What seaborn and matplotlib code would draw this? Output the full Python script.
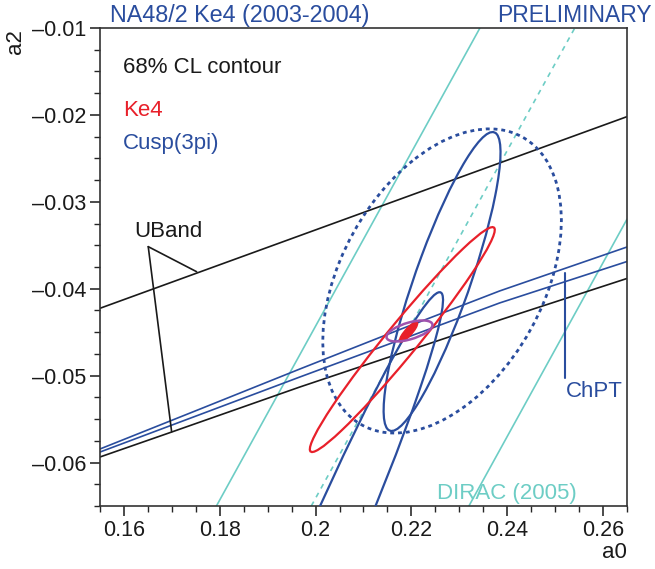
import numpy as np
import matplotlib
matplotlib.use("Agg")
import matplotlib.pyplot as plt
import seaborn as sns
from matplotlib.patches import Ellipse
from matplotlib.ticker import MultipleLocator, FuncFormatter

# === 68% CL contours: [a0 centre, a2 centre, sigma a0, sigma a2, correlation] ===
ke4_contour = [0.2181, -0.04585, 0.0193, 0.01294, 0.975]
ke4_core = [0.2194, -0.04498, 0.0019, 0.00115, 0.85]
cusp_narrow = [0.2264, -0.03917, 0.0122, 0.0172, 0.863]
cusp_long = [0.2022, -0.0708, 0.0244, 0.0304, 0.9705]
cusp_dotted = [0.2264, -0.03911, 0.0249, 0.0175, 0.398]
combined = [0.2196, -0.04486, 0.0048, 0.00121, 0.57]

# === Universal band (UBand) ===
uband_upper_a0 = [0.155, 0.265]
uband_upper_a2 = [-0.04225, -0.0202]
uband_lower_a0 = [0.155, 0.170, 0.1967, 0.2384, 0.265]
uband_lower_a2 = [-0.05936, -0.05648, -0.05131, -0.0436, -0.03882]

# === ChPT band ===
chpt_a0 = [0.155, 0.1759, 0.1967, 0.2176, 0.2384, 0.265]
chpt_upper_a2 = [-0.05844, -0.05384, -0.04924, -0.04469, -0.04026, -0.0352]
chpt_lower_a2 = [-0.05879, -0.05447, -0.05016, -0.0459, -0.04164, -0.03687]

# === DIRAC (2005): a0 where each line meets a2 = -0.065, slope 1 ===
dirac_a0 = [0.1793, 0.1991, 0.2320]
dirac_style = ["-", (0, (3, 3)), "-"]

# === annotation pointers ===
uband_tip = [0.16507, -0.03516]
uband_ends_a0 = [0.17516, 0.16995]
uband_ends_a2 = [-0.03804, -0.05645]
chpt_tick_a0 = [0.25205, 0.25205]
chpt_tick_a2 = [-0.03819, -0.05027]

BLUE = "#2a4d9e"
RED = "#e8202a"
CYAN = "#6dcdc5"
PURPLE = "#a052ad"
BLACK = "#1a1a1a"

sns.set_style("ticks")
plt.rcParams["font.family"] = ["Liberation Sans", "DejaVu Sans"]

fig = plt.figure(figsize=(6.55, 5.69), dpi=100)
ax = fig.add_axes([100 / 655, 1 - 506 / 569, 527 / 655, 478 / 569])


def cl_ellipse(c, **kw):
    x0, y0, sx, sy, rho = c
    cov = np.array([[sx * sx, rho * sx * sy], [rho * sx * sy, sy * sy]])
    vals, vecs = np.linalg.eigh(cov)
    ang = np.degrees(np.arctan2(vecs[1, 1], vecs[0, 1]))
    ax.add_patch(Ellipse((x0, y0), 2 * np.sqrt(vals[1]), 2 * np.sqrt(vals[0]),
                         angle=ang, **kw))


# DIRAC lines
for a0, ls in zip(dirac_a0, dirac_style):
    ax.axline((a0, -0.065), slope=1.0, color=CYAN, lw=1.2, ls=ls, zorder=1)

# UBand and ChPT
sns.lineplot(x=uband_upper_a0, y=uband_upper_a2, color=BLACK, lw=1.2, sort=False, ax=ax)
sns.lineplot(x=uband_lower_a0, y=uband_lower_a2, color=BLACK, lw=1.2, sort=False, ax=ax)
sns.lineplot(x=chpt_a0, y=chpt_upper_a2, color=BLUE, lw=1.2, sort=False, ax=ax)
sns.lineplot(x=chpt_a0, y=chpt_lower_a2, color=BLUE, lw=1.2, sort=False, ax=ax)

for ex, ey in zip(uband_ends_a0, uband_ends_a2):
    ax.plot([uband_tip[0], ex], [uband_tip[1], ey], color=BLACK, lw=1.2)
ax.plot(chpt_tick_a0, chpt_tick_a2, color=BLUE, lw=1.5)

# contours
cl_ellipse(cusp_dotted, fill=False, ec=BLUE, lw=2.0, ls=(0, (1.4, 1.4)), zorder=3)
cl_ellipse(cusp_long, fill=False, ec=BLUE, lw=1.6, zorder=3)
cl_ellipse(cusp_narrow, fill=False, ec=BLUE, lw=1.6, zorder=3)
cl_ellipse(ke4_contour, fill=False, ec=RED, lw=1.6, zorder=4)
cl_ellipse(ke4_core, fill=True, fc=RED, ec=RED, lw=1.0, zorder=5)
cl_ellipse(combined, fill=False, ec=PURPLE, lw=1.8, zorder=6)

ax.set_xlim(0.155, 0.265)
ax.set_ylim(-0.065, -0.01)
ax.set_xlabel("")
ax.set_ylabel("")
ax.xaxis.set_major_locator(MultipleLocator(0.02))
ax.xaxis.set_minor_locator(MultipleLocator(0.005))
ax.yaxis.set_major_locator(MultipleLocator(0.01))
ax.yaxis.set_minor_locator(MultipleLocator(0.0025))
fmt = FuncFormatter(lambda v, p: ("%g" % round(v, 4)).replace("-", "\u2013"))
ax.xaxis.set_major_formatter(fmt)
ax.yaxis.set_major_formatter(fmt)
ax.tick_params(which="major", direction="out", length=7, width=1.1, labelsize=15.5,
               colors=BLACK, pad=3)
ax.tick_params(which="minor", direction="out", length=4, width=1.0)
for s in ax.spines.values():
    s.set_visible(True)
    s.set_linewidth(1.2)
    s.set_color("#333333")

# texts
ax.text(0.1598, -0.01514, "68% CL contour", color=BLACK, fontsize=16, va="baseline")
ax.text(0.1598, -0.02013, "Ke4", color=RED, fontsize=16, va="baseline")
ax.text(0.1598, -0.02396, "Cusp(3pi)", color=BLUE, fontsize=16, va="baseline")
ax.text(0.16209, -0.03405, "UBand", color=BLACK, fontsize=16, va="baseline")
ax.text(0.25216, -0.05251, "ChPT", color=BLUE, fontsize=16, va="baseline")
ax.text(0.22527, -0.06419, "DIRAC (2005)", color=CYAN, fontsize=16, va="baseline")

fig.text(110 / 655, 1 - 22 / 569, "NA48/2 Ke4 (2003-2004)", color=BLUE, fontsize=16.8, va="baseline")
fig.text(652 / 655, 1 - 22 / 569, "PRELIMINARY", color=BLUE, fontsize=16.5, va="baseline", ha="right")
fig.text(15 / 655, 1 - 42 / 569, "a2", rotation=90, fontsize=16, ha="center", va="center", color=BLACK)
fig.text(627 / 655, 1 - 558 / 569, "a0", fontsize=16, ha="right", va="baseline", color=BLACK)

fig.savefig("out.png", dpi=100)
